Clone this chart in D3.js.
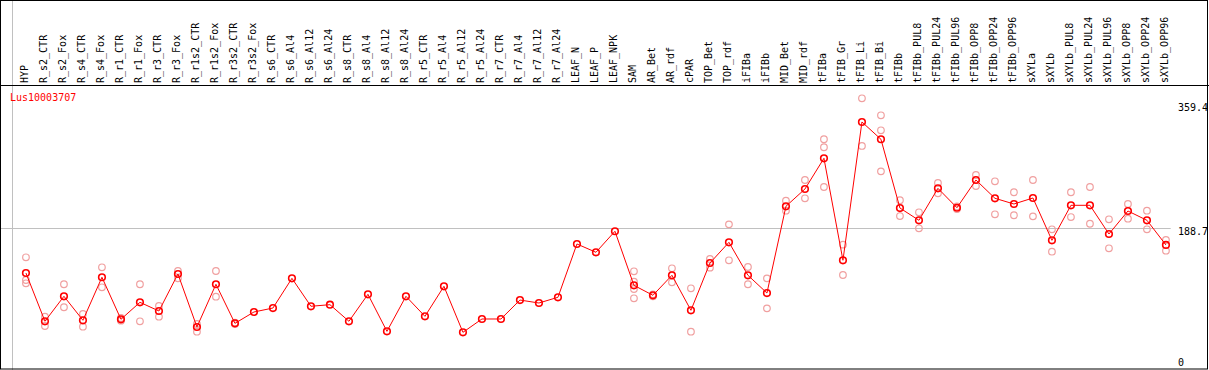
<!DOCTYPE html>
<html>
<head>
<meta charset="utf-8">
<script src="https://cdn.jsdelivr.net/npm/d3@7"></script>
<style>
  body { margin: 0; background: #fff; }
  svg { display: block; }
  text { font-family: "DejaVu Sans Mono", monospace; font-size: 10px; }
</style>
</head>
<body>
<svg id="chart" width="1209" height="370"></svg>
<script>
const geneName = "Lus10003707";

const samples = [
  "HYP",
  "R_s2_CTR", "R_s2_Fox", "R_s4_CTR", "R_s4_Fox", "R_r1_CTR", "R_r1_Fox", "R_r3_CTR", "R_r3_Fox",
  "R_r1s2_CTR", "R_r1s2_Fox", "R_r3s2_CTR", "R_r3s2_Fox",
  "R_s6_CTR", "R_s6_Al4", "R_s6_Al12", "R_s6_Al24", "R_s8_CTR", "R_s8_Al4", "R_s8_Al12", "R_s8_Al24",
  "R_r5_CTR", "R_r5_Al4", "R_r5_Al12", "R_r5_Al24", "R_r7_CTR", "R_r7_Al4", "R_r7_Al12", "R_r7_Al24",
  "LEAF_N", "LEAF_P", "LEAF_NPK",
  "SAM", "AR_Bet", "AR_rdf", "cPAR", "TOP_Bet", "TOP_rdf", "iFIBa", "iFIBb", "MID_Bet", "MID_rdf",
  "tFIBa", "tFIB_Gr", "tFIB_Li", "tFIB_Bi", "tFIBb",
  "tFIBb_PUL8", "tFIBb_PUL24", "tFIBb_PUL96", "tFIBb_OPP8", "tFIBb_OPP24", "tFIBb_OPP96",
  "sXYLa", "sXYLb",
  "sXYLb_PUL8", "sXYLb_PUL24", "sXYLb_PUL96", "sXYLb_OPP8", "sXYLb_OPP24", "sXYLb_OPP96"
];

// number of samples in each separated group (left to right)
const groupSizes = [1, 28, 3, 3, 1, 2, 1, 1, 2, 1, 1, 2, 7, 1, 7];

const means = [
  130.0,
  66.6, 99.4, 67.9, 124.4, 69.2, 91.5, 80.1, 128.7,
  59.1, 115.2, 63.9, 78.8,
  84.0, 123.0, 86.3, 88.4, 66.6, 102.0, 53.4, 99.4,
  73.1, 112.5, 52.1, 69.6, 69.6, 94.5, 90.6, 98.1,
  168.1, 157.2, 184.8,
  113.8, 100.7, 127.0, 81.0, 143.1, 170.3, 127.0, 103.7, 217.6, 240.3,
  280.6, 146.7, 328.3, 305.6, 215.3,
  199.2, 241.2, 215.7, 252.1, 228.1, 220.6,
  228.5, 172.9,
  218.9, 218.9, 181.2, 211.4, 199.2, 166.8
];

const replicates = [
  [150.6, 120.8, 116.5],
  [72.6, 60.4], [115.2, 85.0], [76.2, 59.5], [137.5, 111.2], [70.9, 67.4], [115.2, 66.6], [86.7, 72.6], [132.6, 123.0],
  [63.0, 52.9], [132.6, 98.9], [64.7, 63.0], [],
  [], [], [], [], [], [], [], [],
  [], [], [], [], [], [], [], [],
  [], [], [],
  [132.2, 118.6, 109.0, 96.8], [102.0, 99.4], [136.2, 117.8], [109.9, 52.9], [148.4, 137.0], [193.9, 146.7],
  [137.9, 115.2], [123.0, 83.6], [224.9, 211.8], [252.1, 228.1],
  [305.6, 295.1, 242.9], [167.2, 127.4], [359.4, 296.8], [337.1, 317.4, 263.5], [225.5, 204.8],
  [209.7, 188.7], [248.2, 234.7], [217.3, 214.0], [258.7, 244.2], [250.4, 207.1], [236.0, 205.8],
  [252.1, 204.4], [187.4, 158.0],
  [236.0, 203.5], [242.9, 194.7], [200.5, 162.4], [220.6, 201.3], [211.8, 187.4], [173.3, 159.3]
];

const yTicks = [359.4, 188.7, 0];

const W = 1209, H = 370;
const headerBottom = 85.5;
const svg = d3.select("#chart");

svg.append("rect").attr("width", W).attr("height", H).attr("fill", "#fff");

const x = d3.scaleBand()
  .domain(d3.range(samples.length))
  .range([11.7, 11.7 + 19 * samples.length])
  .padding(0);
const bw = x.bandwidth();
const px = i => x(i) + bw * 0.75;

const y = d3.scaleLinear().domain([0, 359.4]).range([372, 98.3]);

// group separators
const bounds = [x(0)].concat(d3.cumsum(groupSizes).map(c => x(c - 1) + bw));
svg.append("g")
  .selectAll("line")
  .data(bounds)
  .join("line")
  .attr("x1", d => Math.round(d) + 0.5)
  .attr("x2", d => Math.round(d) + 0.5)
  .attr("y1", 0)
  .attr("y2", H)
  .attr("stroke", "#c0c0c0")
  .attr("stroke-width", 1);

// mid gridline
svg.append("line")
  .attr("x1", 1).attr("x2", x.range()[1])
  .attr("y1", Math.round(y(yTicks[1])) + 0.5)
  .attr("y2", Math.round(y(yTicks[1])) + 0.5)
  .attr("stroke", "#c0c0c0");

// header line
svg.append("line")
  .attr("x1", 0).attr("x2", W)
  .attr("y1", headerBottom).attr("y2", headerBottom)
  .attr("stroke", "#000");

// sample labels
svg.append("g")
  .selectAll("text")
  .data(samples)
  .join("text")
  .attr("transform", (d, i) => `translate(${x(i) + 16.5},83) rotate(-90)`)
  .attr("fill", "#000")
  .text(d => d);

// gene name
svg.append("text")
  .attr("x", 10).attr("y", 101)
  .attr("fill", "#ff0000")
  .text(geneName);

// y labels
const tickOffset = [12.7, 6.7, -6];
svg.append("g")
  .selectAll("text")
  .data(yTicks)
  .join("text")
  .attr("x", 1178)
  .attr("y", (d, i) => y(d) + tickOffset[i])
  .attr("fill", "#000")
  .text(d => d);

// replicate points
const repPts = replicates.flatMap((r, i) => r.map(v => ({ i, v })));
svg.append("g")
  .selectAll("circle")
  .data(repPts)
  .join("circle")
  .attr("cx", d => px(d.i))
  .attr("cy", d => y(d.v))
  .attr("r", 3.3)
  .attr("fill", "none")
  .attr("stroke", "#f0a0a0")
  .attr("stroke-width", 1.2);

// mean line
const line = d3.line()
  .x((d, i) => px(i))
  .y(d => y(d));

svg.append("path")
  .datum(means)
  .attr("d", line)
  .attr("fill", "none")
  .attr("stroke", "#ff0000")
  .attr("stroke-width", 1);

svg.append("g")
  .selectAll("circle")
  .data(means)
  .join("circle")
  .attr("cx", (d, i) => px(i))
  .attr("cy", d => y(d))
  .attr("r", 3.3)
  .attr("fill", "none")
  .attr("stroke", "#ff0000")
  .attr("stroke-width", 1.6);

// outer border
svg.append("rect")
  .attr("x", 0.5).attr("y", 0.5)
  .attr("width", W - 2).attr("height", H - 1.5)
  .attr("fill", "none")
  .attr("stroke", "#000");
</script>
</body>
</html>
